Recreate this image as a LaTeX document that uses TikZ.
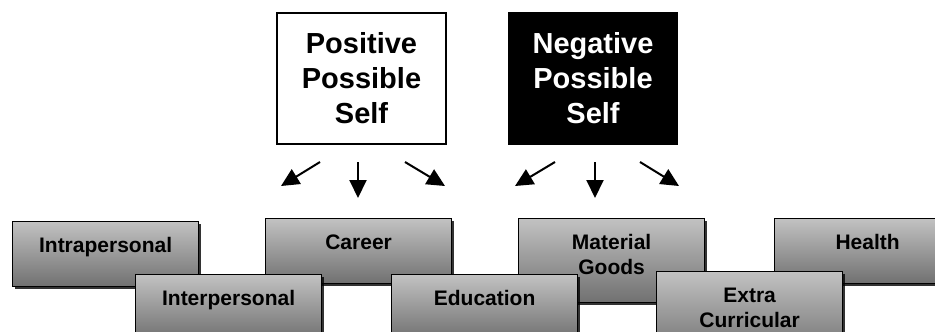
\documentclass[tikz,border=0pt]{standalone}
\usepackage{fontspec}
\setmainfont{Liberation Sans}
\usetikzlibrary{arrows.meta,shadows}

\definecolor{boxtop}{gray}{0.76}
\definecolor{boxbot}{gray}{0.44}

\tikzset{
  self/.style={draw, line width=1.5pt, minimum width=169pt, minimum height=131pt,
    inner sep=0pt, align=center, font=\fontsize{29}{35}\selectfont\bfseries},
  area/.style={draw, line width=1.2pt, anchor=north west, minimum width=186pt,
    inner sep=0pt, text height=31pt, text depth=34pt, align=center,
    top color=boxtop, bottom color=boxbot,
    drop shadow={shadow xshift=2pt, shadow yshift=-2pt, opacity=0.8, fill=black},
    font=\fontsize{21}{25}\selectfont\bfseries},
  twoline/.style={text height=56pt, text depth=28pt},
  arr/.style={line width=2pt, -{Triangle[length=18pt,width=17pt]}}
}

\begin{document}
\begin{tikzpicture}[x=1pt, y=-1pt]
            \useasboundingbox (0,0) rectangle (935,332);

            \node[self] (P) at (361.5,78.5) {Positive\\Possible\\Self};
            \node[self, fill=black, text=white] (N) at (593,78.5) {Negative\\Possible\\Self};

            \coordinate (pl) at (320,162);  \coordinate (pl') at (281,186);
            \coordinate (pm) at (358,162);  \coordinate (pm') at (358,198);
            \coordinate (pr) at (405,162);  \coordinate (pr') at (445,186);
            \coordinate (nl) at (555,162);  \coordinate (nl') at (515,186);
            \coordinate (nm) at (595,162);  \coordinate (nm') at (595,198);
            \coordinate (nr) at (640,162);  \coordinate (nr') at (679,186);

            \draw[arr] (pl) -- (pl');
            \draw[arr] (pm) -- (pm');
            \draw[arr] (pr) -- (pr');
            \draw[arr] (nl) -- (nl');
            \draw[arr] (nm) -- (nm');
            \draw[arr] (nr) -- (nr');

            % back row
            \node[area] (intra) at (12,221) {Intrapersonal};
            \node[area] (career) at (265,218) {Career};
            \node[area, twoline] (goods) at (518,218) {Material\\Goods};
            \node[area] (health) at (774,218) {Health};
            % front row
            \node[area] (inter) at (135,274) {Interpersonal};
            \node[area] (edu) at (391,274) {Education};
            \node[area, twoline] (extra) at (656,271) {Extra\\Curricular};
        \end{tikzpicture}
\end{document}
